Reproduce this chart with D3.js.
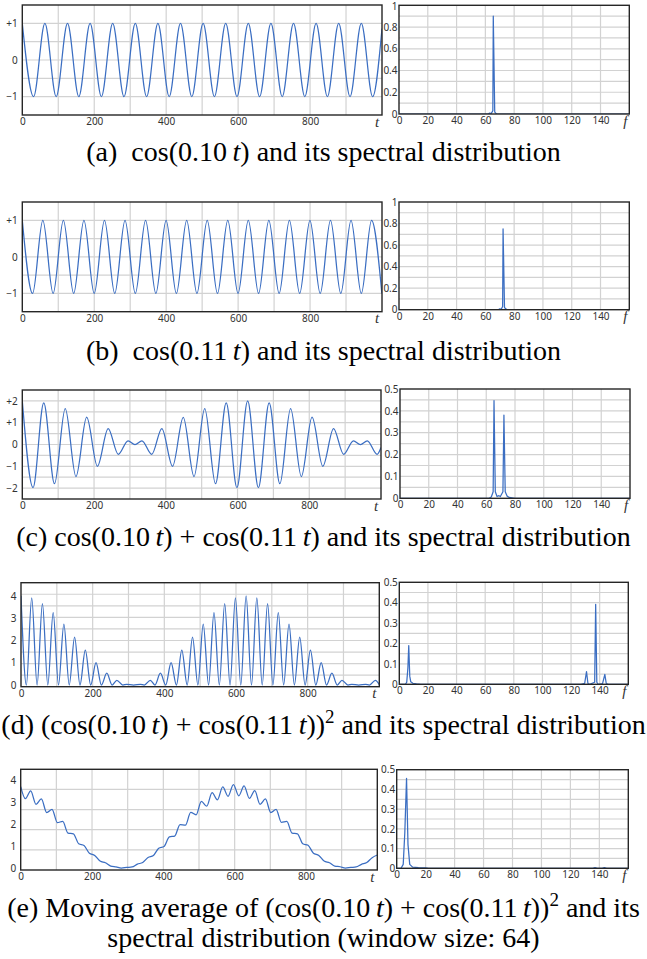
<!DOCTYPE html>
<html><head><meta charset="utf-8">
<script src="https://cdn.jsdelivr.net/npm/d3@7"></script>
<style>
html,body{margin:0;padding:0;background:#fff;}
svg{display:block;}
</style>
</head><body>
<svg id="chart" width="647" height="959"></svg>
<script>
// ---------- DATA ----------
const timeTicks = [0, 200, 400, 600, 800];
const freqTicks = [0, 20, 40, 60, 80, 100, 120, 140];
const yTicksA = [1, 0, -1];
const yLabelsA = ["+1", "0", "\u22121"];
const yTicksC = [2, 1, 0, -1, -2];
const yLabelsC = ["+2", "+1", "0", "\u22121", "\u22122"];
const yTicksD = [0, 1, 2, 3, 4];
const yLabelsD = ["0", "1", "2", "3", "4"];
const specTicks1 = [0, 0.2, 0.4, 0.6, 0.8, 1];
const specLabels1 = ["0", "0.2", "0.4", "0.6", "0.8", "1"];
const specTicks05 = [0, 0.1, 0.2, 0.3, 0.4, 0.5];
const specLabels05 = ["0", "0.1", "0.2", "0.3", "0.4", "0.5"];

// (a) cos(0.10 t): turning points
const aT = [0,31.4,62.8,94.2,125.7,157.1,188.5,219.9,251.3,282.7,314.2,345.6,377.0,408.4,439.8,471.2,502.7,534.1,565.5,596.9,628.3,659.7,691.2,722.6,754.0,785.4,816.8,848.2,879.6,911.1,942.5,973.9,1000];
const aV = [1,-1,1,-1,1,-1,1,-1,1,-1,1,-1,1,-1,1,-1,1,-1,1,-1,1,-1,1,-1,1,-1,1,-1,1,-1,1,-1,0.86];
// (b) cos(0.11 t)
const bT = [0,28.6,57.1,85.7,114.2,142.8,171.4,199.9,228.5,257.0,285.6,314.2,342.7,371.3,399.8,428.4,457.0,485.5,514.1,542.6,571.2,599.8,628.3,656.9,685.4,714.0,742.6,771.1,799.7,828.2,856.8,885.4,913.9,942.5,971.0,999.6];
const bV = [1,-1,1,-1,1,-1,1,-1,1,-1,1,-1,1,-1,1,-1,1,-1,1,-1,1,-1,1,-1,1,-1,1,-1,1,-1,1,-1,1,-1,1,-1];
// (c) cos(0.10 t) + cos(0.11 t)
const cT = [0,29.9,59.8,89.8,119.7,149.6,179.5,209.4,239.4,267.5,294.8,314.2,333.5,360.9,389.0,418.9,448.8,478.7,508.6,538.6,568.5,598.4,628.3,658.2,688.2,718.1,748.0,777.9,807.8,837.8,867.7,895.8,923.2,942.5,961.8,989.2,1000];
const cV = [2.00,-1.98,1.91,-1.80,1.65,-1.47,1.25,-1.00,0.73,-0.45,0.17,0.00,0.17,-0.45,0.73,-1.00,1.25,-1.47,1.65,-1.80,1.91,-1.98,2.00,-1.98,1.91,-1.80,1.65,-1.47,1.25,-1.00,0.73,-0.45,0.17,0.00,0.17,-0.45,-0.14];
// (d) (cos(0.10 t) + cos(0.11 t))^2
const dT = [0,15.0,29.9,44.9,59.8,74.8,89.8,104.7,119.7,134.6,149.6,164.6,179.5,194.5,209.4,224.4,239.4,254.3,267.5,284.2,294.8,314.2,333.5,344.1,360.9,374.0,389.0,403.9,418.9,433.8,448.8,463.8,478.7,493.7,508.6,523.6,538.6,553.5,568.5,583.4,598.4,613.4,628.3,643.3,658.2,673.2,688.2,703.1,718.1,733.0,748.0,763.0,777.9,792.9,807.8,822.8,837.8,852.7,867.7,882.6,895.8,912.6,923.2,942.5,961.8,972.4,989.2,1000];
const dV = [4.00,0,3.91,0,3.65,0,3.25,0,2.73,0,2.15,0,1.56,0,1.00,0,0.53,0,0.21,0,0.03,0,0.03,0,0.21,0,0.53,0,1.00,0,1.56,0,2.15,0,2.73,0,3.25,0,3.65,0,3.91,0,4.00,0,3.91,0,3.65,0,3.25,0,2.73,0,2.15,0,1.56,0,1.00,0,0.53,0,0.21,0,0.03,0,0.03,0,0.21,0.02];
// (e) moving average (window 64)
const eT = [0,13.1,28.0,43.0,57.9,72.9,87.9,102.8,117.8,132.7,147.7,162.7,177.6,192.6,207.5,222.5,237.5,252.4,267.4,282.3,297.3,312.3,327.2,342.2,357.1,372.1,387.1,402.0,417.0,431.9,446.9,461.9,476.8,491.8,506.7,521.7,536.7,551.6,566.6,581.5,596.5,611.5,626.4,641.4,656.3,671.3,686.3,701.2,716.2,731.1,746.1,761.1,776.0,791.0,805.9,820.9,835.9,850.8,865.8,880.7,895.7,910.7,925.6,940.6,955.5,970.5,985.5,1000];
const eV = [3.70,3.15,3.50,2.89,3.14,2.52,2.67,2.07,2.12,1.59,1.56,1.11,1.03,0.68,0.58,0.33,0.25,0.10,0.06,0.01,0.04,0.06,0.19,0.26,0.49,0.58,0.91,0.99,1.42,1.46,1.98,1.95,2.53,2.42,3.03,2.81,3.42,3.10,3.68,3.26,3.79,3.28,3.73,3.16,3.51,2.89,3.14,2.52,2.67,2.08,2.12,1.59,1.56,1.11,1.04,0.68,0.58,0.33,0.25,0.10,0.07,0.01,0.04,0.06,0.18,0.26,0.48,0.60];

// spectra
const aF = [0,62,63,64,65.2,65.5,66.5,67,68,160];
const aP = [0,0,0.008,0.003,0.03,0.90,0.02,0.01,0,0];
const bF = [0,69,70,71,72.0,72.3,73.3,74,75,160];
const bP = [0,0,0.008,0.004,0.03,0.75,0.02,0.01,0,0];
const cF = [0,62,63.5,64.8,65.4,66.3,67.5,68.8,69.8,71.6,72.3,73.2,74.5,76,80,160];
const cP = [0,0,0.006,0.03,0.447,0.03,0.008,0.012,0.008,0.03,0.381,0.03,0.01,0.004,0,0];
const dF = [0,4.2,5.2,6.0,6.6,7.3,8.0,9.5,12,15,127,129.5,130.8,131.8,133,136.5,137.2,138,139,142,143.6,144.6,146,160];
const dP = [0,0,0.01,0.08,0.19,0.04,0.012,0.005,0.002,0,0,0.004,0.062,0.004,0,0.01,0.392,0.01,0,0.003,0.049,0.004,0,0];
const eF = [0,3,4.5,5.6,6.8,7.8,9,11,15,20,22,135.5,137,138.5,142,143.5,145,160];
const eP = [0,0,0.02,0.18,0.456,0.12,0.02,0.006,0.003,0.002,0,0,0.004,0,0,0.004,0,0];

// captions: [text, style] with style "" normal, "i" italic, "s" superscript
const capA = [["(a)  cos(0.10\u2009",""],["t","i"],[") and its spectral distribution",""]];
const capB = [["(b)  cos(0.11\u2009",""],["t","i"],[") and its spectral distribution",""]];
const capC = [["(c) cos(0.10\u2009",""],["t","i"],[") + cos(0.11\u2009",""],["t","i"],[") and its spectral distribution",""]];
const capD = [["(d) (cos(0.10\u2009",""],["t","i"],[") + cos(0.11\u2009",""],["t","i"],["))",""],["2","s"],[" and its spectral distribution",""]];
const capE1 = [["(e) Moving average of (cos(0.10\u2009",""],["t","i"],[") + cos(0.11\u2009",""],["t","i"],["))",""],["2","s"],[" and its",""]];
const capE2 = [["spectral distribution (window size: 64)",""]];

// ---------- LAYOUT ----------
const BLUE = "#3b6ec2";
const rows = [
  {L:{x0:22.3,x1:382,y0:5,y1:115,yDom:[-1.5,1.5],hs:6,yt:yTicksA,yl:yLabelsA,xs:aT,ys:aV},
   R:{x0:399,x1:629.3,y0:5.3,y1:114,yDom:[0,1],hs:10,yt:specTicks1,yl:specLabels1,xs:aF,ys:aP},
   caps:[[capA,161]]},
  {L:{x0:22.3,x1:382,y0:202,y1:311.7,yDom:[-1.5,1.5],hs:6,yt:yTicksA,yl:yLabelsA,xs:bT,ys:bV},
   R:{x0:399,x1:629.3,y0:202,y1:309.7,yDom:[0,1],hs:10,yt:specTicks1,yl:specLabels1,xs:bF,ys:bP},
   caps:[[capB,360]]},
  {L:{x0:22.3,x1:381,y0:390,y1:499,yDom:[-2.5,2.5],hs:10,yt:yTicksC,yl:yLabelsC,xs:cT,ys:cV},
   R:{x0:400,x1:630,y0:389,y1:498.3,yDom:[0,0.5],hs:10,yt:specTicks05,yl:specLabels05,xs:cF,ys:cP},
   caps:[[capC,546]]},
  {L:{x0:21,x1:379.3,y0:582.7,y1:686.7,yDom:[-0.076,4.59],hs:9,yt:yTicksD,yl:yLabelsD,xs:dT,ys:dV},
   R:{x0:399.3,x1:628.3,y0:582.3,y1:684.3,yDom:[0,0.5],hs:10,yt:specTicks05,yl:specLabels05,xs:dF,ys:dP},
   caps:[[capD,733.5]]},
  {L:{x0:20.7,x1:377.3,y0:769.3,y1:870,yDom:[-0.077,4.48],hs:5,yt:yTicksD,yl:yLabelsD,xs:eT,ys:eV},
   R:{x0:396.7,x1:628.3,y0:769.7,y1:868.3,yDom:[0,0.5],hs:10,yt:specTicks05,yl:specLabels05,xs:eF,ys:eP},
   caps:[[capE1,917],[capE2,947]]}
];

const svg = d3.select("#chart");
const TICKFONT = "'Noto Sans', 'Open Sans', sans-serif";
let clipId = 0;

function drawPanel(p, xDom, xTicks, vs, letter, curve, lblPad, letterOff) {
  const x = d3.scaleLinear().domain(xDom).range([p.x0, p.x1]);
  const y = d3.scaleLinear().domain(p.yDom).range([p.y1, p.y0]);
  const g = svg.append("g");
  const gx = d3.scaleLinear().domain([0, vs]).range([p.x0, p.x1]);
  const gy = d3.scaleLinear().domain([0, p.hs]).range([p.y1, p.y0]);
  g.append("g").selectAll("line").data(d3.range(1, vs)).join("line")
    .attr("x1", d => gx(d)).attr("x2", d => gx(d)).attr("y1", p.y0).attr("y2", p.y1)
    .attr("stroke", "#d2d2d2").attr("stroke-width", 1.2);
  g.append("g").selectAll("line").data(d3.range(1, p.hs)).join("line")
    .attr("y1", d => gy(d)).attr("y2", d => gy(d)).attr("x1", p.x0).attr("x2", p.x1)
    .attr("stroke", "#d2d2d2").attr("stroke-width", 1.2);
  const id = "clip" + (clipId++);
  svg.append("clipPath").attr("id", id).append("rect")
    .attr("x", p.x0).attr("y", p.y0 - 1).attr("width", p.x1 - p.x0).attr("height", p.y1 - p.y0 + 1);
  const pts = p.xs.map((t, i) => [t, p.ys[i]]);
  g.append("path").datum(pts)
    .attr("clip-path", `url(#${id})`)
    .attr("fill", "none").attr("stroke", BLUE).attr("stroke-width", 1.25)
    .attr("stroke-linejoin", "round")
    .attr("d", d3.line().x(d => x(d[0])).y(d => y(d[1])).curve(curve));
  g.append("rect").attr("x", p.x0).attr("y", p.y0)
    .attr("width", p.x1 - p.x0).attr("height", p.y1 - p.y0)
    .attr("fill", "none").attr("stroke", "#262626").attr("stroke-width", 1.4);
  const ax = g.append("g").attr("transform", `translate(0,${p.y1})`)
    .call(d3.axisBottom(x).tickValues(xTicks).tickSize(0).tickPadding(3).tickFormat(d3.format("d")));
  const ay = g.append("g").attr("transform", `translate(${p.x0},0)`)
    .call(d3.axisLeft(y).tickValues(p.yt).tickSize(0).tickPadding(lblPad)
      .tickFormat((d, i) => p.yl[i]));
  [ax, ay].forEach(a => {
    a.select(".domain").remove();
    a.selectAll("text").attr("font-family", TICKFONT).attr("font-size", 10).attr("fill", "#333");
  });
  // keep the topmost label inside the page
  ay.selectAll(".tick").filter(d => y(d) < 7).select("text").attr("dy", "0.45em");
  g.append("text").attr("x", x(xDom[1]) - letterOff).attr("y", p.y1 + 11.5)
    .attr("text-anchor", "middle").attr("font-family", "'Liberation Serif', serif")
    .attr("font-style", "italic").attr("font-size", 15).attr("fill", "#333").text(letter);
}

function drawCaption(segs, yb) {
  const t = svg.append("text").attr("x", 323.5).attr("y", yb).attr("text-anchor", "middle")
    .attr("font-family", "'Liberation Serif', 'Times New Roman', serif").attr("font-size", 28).attr("fill", "#000")
    .attr("xml:space", "preserve");
  let raised = false;
  segs.forEach(([s, st]) => {
    const ts = t.append("tspan").text(s);
    if (st === "i") ts.attr("font-style", "italic");
    if (st === "s") { ts.attr("font-size", 19).attr("dy", -11); raised = true; }
    else if (raised) { ts.attr("dy", 11); raised = false; }
  });
}

rows.forEach(r => {
  drawPanel(r.L, [0, 1000], timeTicks, 10, "t", d3.curveMonotoneX, 4.5, 5);
  drawPanel(r.R, [0, 160], freqTicks, 8, "f", d3.curveLinear, 1.5, 4);
  r.caps.forEach(([c, yb]) => drawCaption(c, yb));
});
</script>
</body></html>
